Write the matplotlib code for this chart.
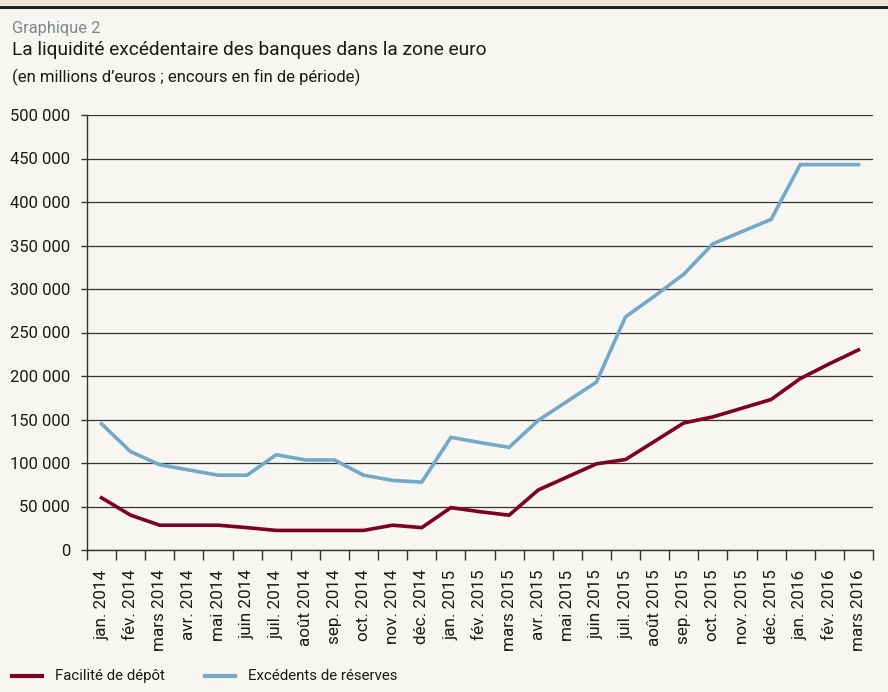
import matplotlib.pyplot as plt
from matplotlib.patches import Rectangle
from matplotlib.lines import Line2D
import numpy as np

plt.rcParams['font.family'] = ['Roboto', 'DejaVu Sans']

months = ['jan. 2014', 'fév. 2014', 'mars 2014', 'avr. 2014', 'mai 2014', 'juin 2014',
          'juil. 2014', 'août 2014', 'sep. 2014', 'oct. 2014', 'nov. 2014', 'déc. 2014',
          'jan. 2015', 'fév. 2015', 'mars 2015', 'avr. 2015', 'mai 2015', 'juin 2015',
          'juil. 2015', 'août 2015', 'sep. 2015', 'oct. 2015', 'nov. 2015', 'déc. 2015',
          'jan. 2016', 'fév. 2016', 'mars 2016']

# facilite de depot (millions d'euros)
depot = [60000, 40000, 28500, 28500, 28500, 25700, 22500, 22500, 22500, 22500, 28500, 25700,
         48700, 44000, 40000, 69000, 84000, 99000, 104000, 125000, 146000, 153000, 163000, 173000,
         197000, 214000, 230000]

# excedents de reserves
reserves = [145000, 113000, 98000, 92000, 86000, 86000, 109500, 103500, 103500, 86000, 80000, 78000,
            129500, 123500, 118000, 149000, 171000, 193000, 268000, 292000, 317000, 352000, 366000, 380000,
            443000, 443000, 443000]

yticks = [0, 50000, 100000, 150000, 200000, 250000, 300000, 350000, 400000, 450000, 500000]
ylabels = ['0', '50 000', '100 000', '150 000', '200 000', '250 000', '300 000', '350 000',
           '400 000', '450 000', '500 000']

bg = '#f7f6f2'
red = '#7e0028'
blue = '#72a9c6'
txt = '#1a1a1a'

fig = plt.figure(figsize=(8.88, 6.92), dpi=100, facecolor=bg)

# bandeau du haut
fig.patches.append(Rectangle((0, 1 - 5/692), 1, 5/692, transform=fig.transFigure,
                             facecolor='#ebe3d8', edgecolor='none'))
fig.add_artist(Line2D([0, 1], [1 - 6.5/692, 1 - 6.5/692], transform=fig.transFigure,
                      color='#222222', lw=2.2))

fig.text(12/888, 1 - 28/692, 'Graphique 2', fontsize=11.8, color='#7b8690', va='center')
fig.text(12/888, 1 - 50/692, 'La liquidité excédentaire des banques dans la zone euro',
         fontsize=13.8, color=txt, va='center')
fig.text(12/888, 1 - 77/692, '(en millions d’euros ; encours en fin de période)',
         fontsize=12, color=txt, va='center')

ax = fig.add_axes([87/888, 142/692, 786/888, 435/692])
ax.set_facecolor(bg)

x = np.arange(len(months))
ax.plot(x, depot, color=red, lw=2.6, solid_joinstyle='miter')
ax.plot(x, reserves, color=blue, lw=2.6, solid_joinstyle='miter')

ax.set_xlim(-0.5, len(months) - 0.5)
ax.set_ylim(0, 500000)

ax.set_yticks(yticks)
ax.set_yticklabels(ylabels, fontsize=12, color=txt)
ax.yaxis.grid(True, color='#333333', lw=0.9)
ax.set_axisbelow(True)
ax.tick_params(axis='y', length=4, width=1, color='#333333', pad=8)

ax.set_xticks(x)
ax.set_xticklabels(months, rotation=90, fontsize=12.3, color=txt)
ax.set_xticks(np.arange(len(months) + 1) - 0.5, minor=True)
ax.tick_params(axis='x', which='major', length=0, pad=14)
ax.tick_params(axis='x', which='minor', length=7, width=1, color='#333333')

for s in ['top', 'right']:
    ax.spines[s].set_visible(False)
ax.spines['left'].set_color('#333333')
ax.spines['bottom'].set_color('#333333')
ax.spines['left'].set_linewidth(1)
ax.spines['bottom'].set_linewidth(1)

# legende
ly = 1 - 676/692
fig.add_artist(Line2D([12/888, 42/888], [ly, ly], transform=fig.transFigure, color=red, lw=3))
fig.text(55/888, ly, 'Facilité de dépôt', fontsize=10.8, color=txt, va='center')
fig.add_artist(Line2D([205/888, 235/888], [ly, ly], transform=fig.transFigure, color=blue, lw=3))
fig.text(248/888, ly, 'Excédents de réserves', fontsize=10.8, color=txt, va='center')

fig.savefig('out.png', dpi=100, facecolor=bg)
